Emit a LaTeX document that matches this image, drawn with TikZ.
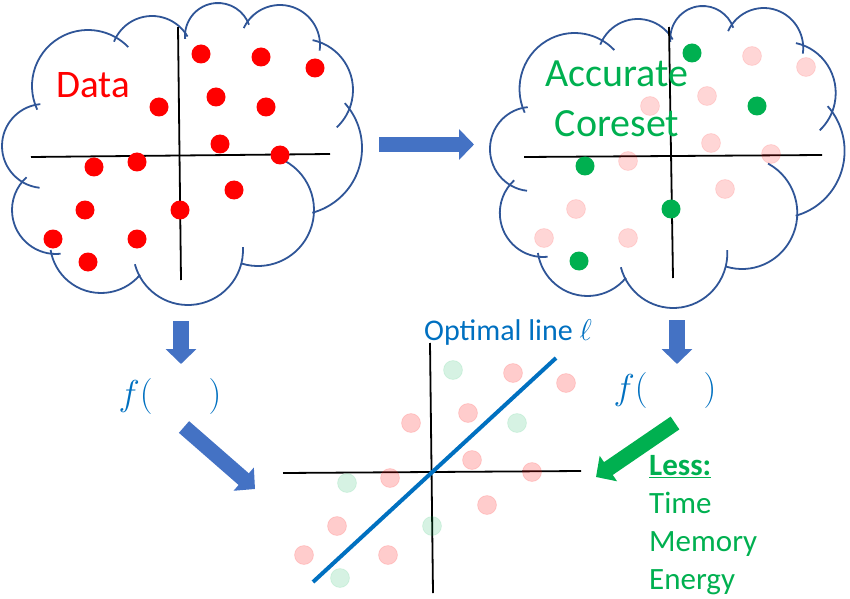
\RequirePackage{fix-cm}
\documentclass[tikz,border=0pt]{standalone}
\usepackage{fontspec}
\setmainfont{Carlito}
\usetikzlibrary{arrows.meta}
\definecolor{cldblue}{RGB}{47,85,151}
\definecolor{arrblue}{RGB}{68,114,196}
\definecolor{txtblue}{RGB}{0,112,192}
\definecolor{accgreen}{RGB}{0,176,80}

\begin{document}
\begin{tikzpicture}[x=1pt,y=1pt,cloudl/.style={draw=cldblue,line width=1.8pt},ax/.style={line width=1.8pt,black},pnt/.style={shape=circle,inner sep=0pt,minimum size=19pt},pntR/.style={pnt,fill=red},pntG/.style={pnt,fill=accgreen},pntP/.style={pnt,fill=red,fill opacity=0.16,draw=red,draw opacity=0.10,line width=0.8pt},pntQ/.style={pnt,fill=red,fill opacity=0.2,draw=red,draw opacity=0.12,line width=0.8pt},pntL/.style={pnt,fill=accgreen,fill opacity=0.16,draw=accgreen,draw opacity=0.10,line width=0.8pt},blockb/.style={line width=15.5pt,arrblue,-{Triangle[length=15pt,width=30pt]}},blockg/.style={line width=15.5pt,accgreen,-{Triangle[length=15pt,width=30pt]}}]
\useasboundingbox (0,0) rectangle (850,598);
\def\sh{491}
\def\cloud{
\draw[cloudl] (44,452) ++(264:42) arc[start angle=264,end angle=95,radius=42];
\draw[cloudl] (88,512) ++(205:56) arc[start angle=205,end angle=44,radius=56];
\draw[cloudl] (152,541) ++(158:41) arc[start angle=158,end angle=30,radius=41];
\draw[cloudl] (218,562) ++(185:33) arc[start angle=185,end angle=20,radius=33];
\draw[cloudl] (280,553) ++(155:40) arc[start angle=155,end angle=-8,radius=40];
\draw[cloudl] (302,508) ++(78:51) arc[start angle=78,end angle=-47,radius=51];
\draw[cloudl] (295,450) ++(42:67) arc[start angle=42,end angle=-75,radius=67];
\draw[cloudl] (258,388) ++(62:56) arc[start angle=62,end angle=-107,radius=56];
\draw[cloudl] (188,348) ++(3:55) arc[start angle=3,end angle=-165,radius=55];
\draw[cloudl] (101,356) ++(-40:51) arc[start angle=-40,end angle=-171,radius=51];
\draw[cloudl] (56,388) ++(276:44) arc[start angle=276,end angle=132,radius=44];
}

% clouds
\begin{scope}
\cloud
\end{scope}
\begin{scope}[xshift=488pt,yshift=-3pt,xscale=0.985]
\cloud
\end{scope}

% axes
\draw[ax] (31,441) -- (330,444);
\draw[ax] (178,571) -- (181,318);
\draw[ax] (524,441) -- (822,443);
\draw[ax] (669,571) -- (673,320);
\draw[ax] (283,125) -- (581,127);
\draw[ax] (430,255) -- (433,5);

% data
\node[pntR] (a1) at (201,544) {};
\node[pntR] (a2) at (261,541) {};
\node[pntR] (a3) at (315,530) {};
\node[pntR] (a4) at (216,501) {};
\node[pntR] (a5) at (266,491) {};
\node[pntR] (a6) at (159,491) {};
\node[pntR] (a7) at (220,454) {};
\node[pntR] (a8) at (280,443) {};
\node[pntR] (a9) at (137,436) {};
\node[pntR] (a10) at (94,431) {};
\node[pntR] (a11) at (234,408) {};
\node[pntR] (a12) at (180,388) {};
\node[pntR] (a13) at (85,388) {};
\node[pntR] (a14) at (53,359) {};
\node[pntR] (a15) at (137,359) {};
\node[pntR] (a16) at (88,336) {};

% coreset
\node[pntG] (b1) at (\sh+201,545) {};
\node[pntP] (b2) at (\sh+261,542) {};
\node[pntP] (b3) at (\sh+315,531) {};
\node[pntP] (b4) at (\sh+216,502) {};
\node[pntG] (b5) at (\sh+266,492) {};
\node[pntP] (b6) at (\sh+159,492) {};
\node[pntP] (b7) at (\sh+220,455) {};
\node[pntP] (b8) at (\sh+280,444) {};
\node[pntP] (b9) at (\sh+137,437) {};
\node[pntG] (b10) at (\sh+94,432) {};
\node[pntP] (b11) at (\sh+234,409) {};
\node[pntG] (b12) at (\sh+180,389) {};
\node[pntP] (b13) at (\sh+85,389) {};
\node[pntP] (b14) at (\sh+53,360) {};
\node[pntP] (b15) at (\sh+137,360) {};
\node[pntG] (b16) at (\sh+88,337) {};

% fitted
\node[pntL] (c1) at (453,228) {};
\node[pntQ] (c2) at (513,225) {};
\node[pntQ] (c3) at (566,215) {};
\node[pntQ] (c4) at (468,185) {};
\node[pntQ] (c5) at (411,175) {};
\node[pntL] (c6) at (517,175) {};
\node[pntQ] (c7) at (472,138) {};
\node[pntQ] (c8) at (532,126) {};
\node[pntL] (c9) at (347,115) {};
\node[pntQ] (c10) at (390,120) {};
\node[pntQ] (c11) at (487,93) {};
\node[pntL] (c12) at (432,72) {};
\node[pntQ] (c13) at (337,72) {};
\node[pntQ] (c14) at (304,43) {};
\node[pntQ] (c15) at (388,43) {};
\node[pntL] (c16) at (340,20) {};

\coordinate (l0) at (313,16);
\coordinate (l1) at (556,240);
\draw[txtblue,line width=4pt] (l0) -- (l1);

% labels
\node[text=red,font=\fontsize{39}{45}\selectfont,anchor=base,inner sep=0pt] (data) at (93,500) {Data};
\node[text=accgreen,font=\fontsize{40}{50}\selectfont,align=center,inner sep=0pt] (coreset) at (617,499) {Accurate\\Coreset};
\node[text=txtblue,font=\fontsize{36}{40}\selectfont,inner sep=0pt] (fL) at (170,202) {$f(\hspace{56pt})$};
\node[text=txtblue,font=\fontsize{36}{40}\selectfont,inner sep=0pt] (fR) at (665,208) {$f(\hspace{56pt})$};
\node[text=txtblue,font=\fontsize{30}{36}\selectfont,anchor=base west,inner sep=0pt] (optl) at (424,258) {Optimal line $\ell$};
\node[text=accgreen,font=\fontsize{31}{38}\selectfont,align=left,anchor=north west,inner sep=0pt] (less) at (649,143) {\textbf{\underline{Less:}}\\Time\\Memory\\Energy};

% arrows
\coordinate (m0) at (379,453.5);
\coordinate (m1) at (474,453.5);
\draw[blockb] (m0) -- (m1);
\coordinate (d0) at (181,277);
\coordinate (d1) at (181,234);
\draw[blockb] (d0) -- (d1);
\coordinate (e0) at (677,278);
\coordinate (e1) at (677,234);
\draw[blockb] (e0) -- (e1);
\coordinate (s0) at (184,171);
\coordinate (s1) at (255,109);
\draw[blockb] (s0) -- (s1);
\coordinate (g0) at (675,175);
\coordinate (g1) at (596,121);
\draw[blockg] (g0) -- (g1);
\end{tikzpicture}
\end{document}
